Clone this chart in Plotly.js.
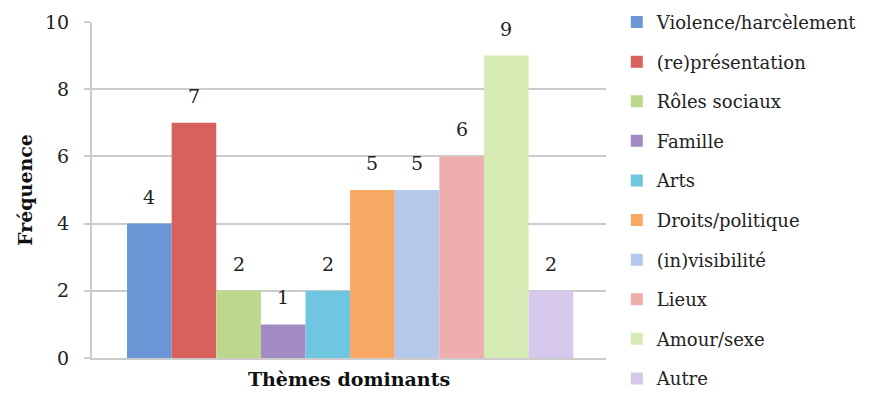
<!DOCTYPE html>
<html>
<head>
<meta charset="utf-8">
<script src="https://cdn.plot.ly/plotly-3.0.1.min.js"></script>
<style>html,body{margin:0;padding:0;background:#fff;}#chart{width:881px;height:393px;}</style>
</head>
<body>
<div id="chart"></div>
<script>
const themes = ["Violence/harcèlement", "(re)présentation", "Rôles sociaux", "Famille", "Arts",
  "Droits/politique", "(in)visibilité", "Lieux", "Amour/sexe", "Autre"];
const frequencies = [4, 7, 2, 1, 2, 5, 5, 6, 9, 2];
const colors = ["#6b97d6", "#d6615d", "#bcd88c", "#a18bc2", "#6fc6e0",
  "#f7a862", "#b3c8ea", "#efaeae", "#d7ecb4", "#d5c8ea"];
const yTicks = [0, 2, 4, 6, 8, 10];
const xTitle = "Thèmes dominants";
const yTitle = "Fréquence";

const FONT = "DejaVu Serif, serif";

const traces = themes.map((name, i) => ({
  type: "bar",
  name: name,
  legendgroup: name,
  x: [i],
  y: [frequencies[i]],
  width: 1,
  marker: {color: colors[i], line: {width: 0}},
  hoverinfo: "none"
}));

const annotations = themes.map((name, i) => ({
  x: i, y: frequencies[i], xref: "x", yref: "y",
  text: String(frequencies[i]), showarrow: false,
  yanchor: "middle", yshift: 27,
  font: {family: FONT, size: 19, color: "#222"}
}));

const layout = {
  width: 881, height: 393,
  margin: {l: 92, r: 275, t: 22, b: 35, autoexpand: false},
  paper_bgcolor: "#fff", plot_bgcolor: "#fff",
  barmode: "overlay",
  font: {family: FONT, size: 19, color: "#222"},
  xaxis: {
    range: [-1.285, 10.235],
    showticklabels: false, showgrid: false, zeroline: false,
    showline: true, linecolor: "#cccccc", linewidth: 2,
    ticks: "",
    title: {text: xTitle, font: {family: FONT, size: 19, color: "#111", weight: "bold"}, standoff: 14}
  },
  yaxis: {
    range: [0, 10], tickvals: yTicks, ticktext: yTicks.map(String),
    showgrid: true, gridcolor: "#cccccc", gridwidth: 2,
    zeroline: false,
    showline: true, linecolor: "#cccccc", linewidth: 2,
    ticks: "outside", ticklen: 6, tickcolor: "#cccccc", tickwidth: 2,
    ticklabelstandoff: 11,
    tickfont: {family: FONT, size: 19, color: "#222"},
    title: {text: yTitle, font: {family: FONT, size: 19, color: "#111", weight: "bold"}, standoff: 7}
  },
  legend: {
    x: 1.021, xanchor: "left", y: 1.054, yanchor: "top",
    traceorder: "grouped", tracegroupgap: 13.2,
    itemwidth: 30, itemclick: false, maxheight: 450,
    font: {family: FONT, size: 18, color: "#222"},
    bgcolor: "rgba(0,0,0,0)"
  },
  annotations: annotations,
  showlegend: true
};

Plotly.newPlot("chart", traces, layout, {staticPlot: true, displayModeBar: false});
</script>
</body>
</html>
